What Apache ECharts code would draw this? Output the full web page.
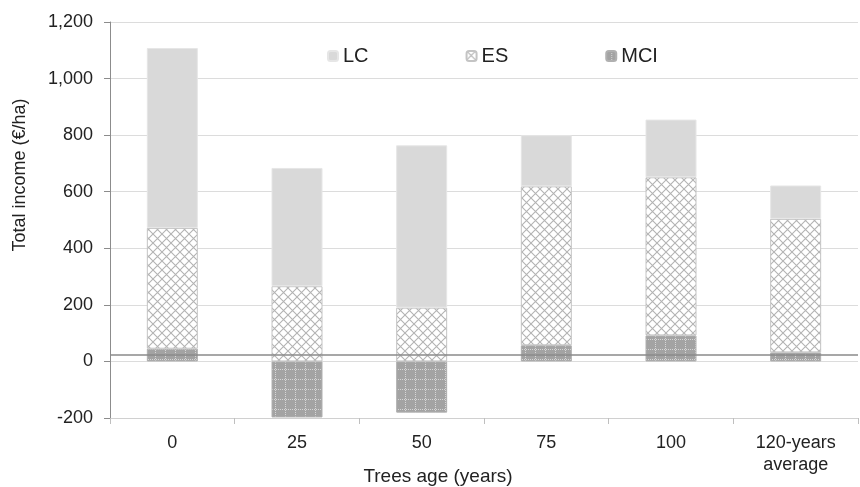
<!DOCTYPE html>
<html>
<head>
<meta charset="utf-8">
<script src="https://cdn.jsdelivr.net/npm/echarts@6/dist/echarts.min.js"></script>
<style>html,body{margin:0;padding:0;background:#fff}#c{width:860px;height:487px}</style>
</head>
<body>
<div id="c"></div>
<script>
const categories = ['0', '25', '50', '75', '100', '120-years\naverage'];
const mciValues = [45, -198, -181, 57, 92, 32];
const esValues = [427, 266, 190, 562, 559, 472];
const lcValues = [636, 418, 574, 181, 204, 118];
const referenceLine = 25;
const yTicks = { min: -200, max: 1200, interval: 200 };

function makeES() {
  const c = document.createElement('canvas');
  c.width = 9; c.height = 9;
  const g = c.getContext('2d');
  g.fillStyle = '#ffffff'; g.fillRect(0, 0, 9, 9);
  g.strokeStyle = '#b3b3b3'; g.lineWidth = 1.1;
  g.beginPath(); g.moveTo(0, 0); g.lineTo(9, 9); g.moveTo(9, 0); g.lineTo(0, 9); g.stroke();
  return c;
}
function makeMCI() {
  const c = document.createElement('canvas');
  c.width = 10; c.height = 10;
  const g = c.getContext('2d');
  g.fillStyle = '#a3a3a3'; g.fillRect(0, 0, 10, 10);
  g.fillStyle = '#d6d6d6';
  for (let i = 0; i < 10; i += 2) { g.fillRect(5, i, 1, 1); g.fillRect(i, 9, 1, 1); }
  return c;
}
const esPattern = { image: makeES(), repeat: 'repeat' };
const mciPattern = { image: makeMCI(), repeat: 'repeat' };

const chart = echarts.init(document.getElementById('c'));
const font = 'Liberation Sans, Arial, sans-serif';
chart.setOption({
  animation: false,
  textStyle: { fontFamily: font },
  grid: { left: 110, right: 2, top: 22, bottom: 69 },
  legend: {
    data: ['LC', 'ES', 'MCI'], left: 322, top: 41, itemWidth: 10, itemHeight: 10, itemGap: 97,
    textStyle: { fontSize: 20, color: '#222', fontFamily: font }
  },
  xAxis: {
    type: 'category', data: categories,
    axisLine: { onZero: false, lineStyle: { color: '#d0d0d0' } },
    axisTick: { show: true, length: 6, lineStyle: { color: '#bfbfbf' } },
    axisLabel: { fontSize: 18, color: '#222', margin: 14, lineHeight: 22, fontFamily: font }
  },
  yAxis: {
    type: 'value', min: yTicks.min, max: yTicks.max, interval: yTicks.interval,
    axisLine: { show: true, lineStyle: { color: '#8c8c8c' } },
    axisTick: { show: true, length: 6, lineStyle: { color: '#8c8c8c' } },
    splitLine: { lineStyle: { color: '#dcdcdc' } },
    axisLabel: { fontSize: 18, color: '#222', margin: 17, fontFamily: font,
      formatter: v => v.toLocaleString('en-US') }
  },
  graphic: [
    { type: 'text', x: 20, y: 175, rotation: Math.PI / 2,
      style: { text: 'Total income (€/ha)', fontSize: 18, fill: '#222', fontFamily: font, align: 'center', verticalAlign: 'middle' } },
    { type: 'text', x: 438, y: 477,
      style: { text: 'Trees age (years)', fontSize: 19, fill: '#222', fontFamily: font, align: 'center', verticalAlign: 'middle' } }
  ],
  series: [
    { name: 'MCI', type: 'bar', stack: 't', barWidth: 51, data: mciValues,
      itemStyle: { color: mciPattern, borderColor: '#b0b0b0', borderWidth: 1 },
      markLine: { silent: true, symbol: 'none', label: { show: false },
        lineStyle: { color: '#8a8a8a', type: 'solid', width: 1.5 }, data: [{ yAxis: referenceLine }] } },
    { name: 'ES', type: 'bar', stack: 't', barWidth: 51, data: esValues,
      itemStyle: { color: esPattern, borderColor: '#c4c4c4', borderWidth: 1 } },
    { name: 'LC', type: 'bar', stack: 't', barWidth: 51, data: lcValues,
      itemStyle: { color: '#d9d9d9', borderColor: '#e6e6e6', borderWidth: 1 } }
  ]
});
</script>
</body>
</html>
